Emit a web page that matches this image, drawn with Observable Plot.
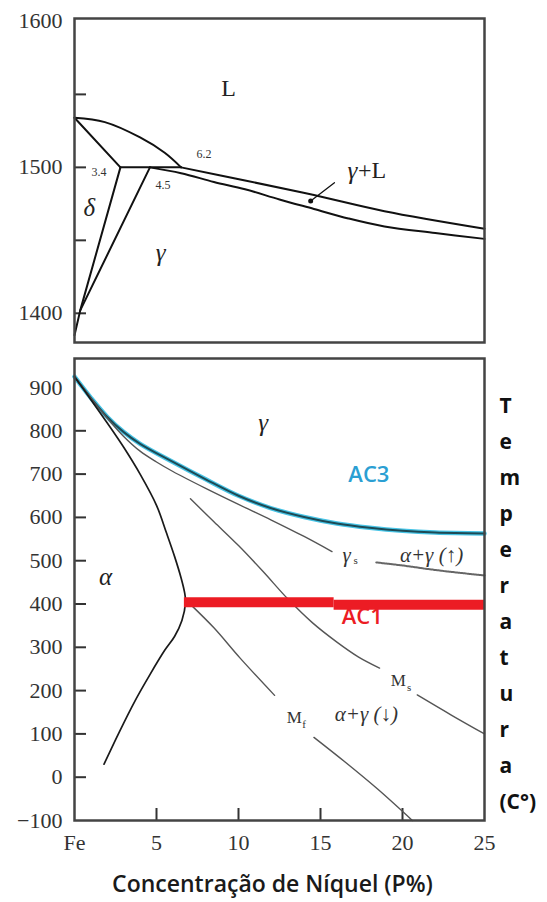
<!DOCTYPE html>
<html>
<head>
<meta charset="utf-8">
<script src="https://cdn.jsdelivr.net/npm/d3@7"></script>
<script src="https://cdn.jsdelivr.net/npm/@observablehq/plot@0.6"></script>
<style>
  html, body { margin: 0; padding: 0; background: #fff; }
  #chart { width: 547px; }
  #chart svg { display: block; }
</style>
</head>
<body>
<div id="chart"></div>
<script>
// ---------- axes ----------
const niTicks = [0, 5, 10, 15, 20, 25];
const niTickLabels = ["Fe", "5", "10", "15", "20", "25"];
const niTickMarks = [5, 10, 15, 20];
const topTempTicks = [1400, 1500, 1600];
const topTempTickMarks = [1400, 1450, 1500, 1550];
const lowTempTicks = [-100, 0, 100, 200, 300, 400, 500, 600, 700, 800, 900];
const lowTempTickMarks = [0, 100, 200, 300, 400, 500, 600, 700, 800];
const xTitle = "Concentração de Níquel (P%)";
const yTitle = "T\ne\nm\np\ne\nr\na\nt\nu\nr\na\n(C°)";

// ---------- upper panel (high temperature) : [Ni %, T °C] ----------
const liquidusDelta   = [[0,1534],[1.85,1531],[4,1520.5],[5.5,1510],[6.5,1500]];
const solidusDelta    = [[0,1534],[2.8,1500]];
const peritectic      = [[2.8,1500],[6.5,1500]];
const deltaBoundary   = [[2.8,1500],[0.35,1402],[0,1385]];
const gammaBoundary   = [[4.6,1500],[0.35,1402]];
const liquidusGamma   = [[6.5,1500],[10.4,1491],[14.6,1481],[18.9,1470],[25,1458]];
const solidusGamma    = [[4.6,1500],[6.5,1496],[8.5,1490],[10.4,1485],[12.5,1478],[14.6,1471.5],[16.7,1465],[18.9,1459.5],[22,1455],[25,1451]];
const pointer         = [[14.4,1477],[15.85,1489.5]];

const topGreek = [{ni:0.9,t:1472,s:"δ"},{ni:5.25,t:1441,s:"γ"},{ni:16.95,t:1497.7,s:"γ"}];
const topRoman = [{ni:9.4,t:1554,s:"L"},{ni:18.15,t:1497.7,s:"+L"}];
const topNums  = [{ni:7.9,t:1509,s:"6.2"},{ni:1.5,t:1496.4,s:"3.4"},{ni:5.4,t:1487.5,s:"4.5"}];

// ---------- lower panel : [Ni %, T °C] ----------
const ac3Line   = [[0,925],[1,876],[2,832],[3,797],[4,770],[6,728],[8,688],[10,650],[12,621],[14,601],[16,586],[18,576],[20,569],[22,565],[25,563]];
const gammaS    = [[0,925],[1,876],[2,829],[3,787],[4,753],[5,728],[6,706],[8,667],[10,630],[12,594],[14,556],[15.7,521]];
const gammaSext = [[18.4,496],[20,489],[21.5,481],[23,474],[25,466]];
const alphaLine = [[0,925],[1,872],[2,818],[3,762],[4,700],[5,628],[5.6,565],[6.1,510],[6.5,460],[6.72,425],[6.77,405],[6.55,362],[6.1,325],[5.5,293],[4.6,237],[3.7,177],[2.7,102],[1.8,30]];
const msA       = [[7.07,643],[8.5,590],[10,535],[11.5,475],[13,412],[14.5,357],[16,312],[17.3,278],[18.6,252]];
const msB       = [[20.9,190],[23,143],[25,100]];
const mfA       = [[7.1,398],[8.5,345],[10.1,275],[12.2,189]];
const mfB       = [[14.6,92],[16.5,35],[18.5,-28],[20.6,-100]];
const ac1A      = [[6.67,404],[15.8,404]];
const ac1B      = [[15.8,398],[25,398]];

const lowGreek  = [{ni:11.5,t:817,s:"γ"},{ni:1.9,t:463,s:"α"}];
const lowPhase  = [{ni:16.6,t:512,s:"γ"},{ni:21.77,t:512,s:"α+γ (↑)"},{ni:17.8,t:145,s:"α+γ (↓)"}];
const mLabels   = [{ni:19.75,t:223,s:"M"},{ni:13.4,t:138,s:"M"}];
const subs      = [{ni:17.15,t:500,s:"s"},{ni:20.4,t:207,s:"s"},{ni:14.0,t:122,s:"f"}];
const ac3Label  = [{ni:17.95,t:698,s:"AC3"}];
const ac1Label  = [{ni:17.55,t:369,s:"AC1"}];

// ---------- styling ----------
const serif = "Liberation Serif, Times New Roman, serif";
const sans = "Open Sans, Liberation Sans, sans-serif";
const X = d => d[0], Y = d => d[1];
const line = (data, o) => Plot.line(data, {x: X, y: Y, ...o});
const label = (data, o) => Plot.text(data, {x: "ni", y: "t", text: "s", ...o});
const fmt = d => d < 0 ? "\u2212" + (-d) : String(d);

const topPlot = Plot.plot({
  width: 547, height: 350,
  marginTop: 18, marginRight: 63, marginBottom: 8, marginLeft: 74,
  x: {domain: [0, 25], axis: null},
  y: {domain: [1380, 1602]},
  marks: [
    Plot.axisY(topTempTicks, {tickSize: 0, tickPadding: 12, tickFormat: fmt, fontSize: 22, fontFamily: serif, fill: "#333", label: null}),
    Plot.axisY(topTempTickMarks, {tickSize: -12, fill: "none", stroke: "#333", strokeWidth: 2, label: null}),
    line(liquidusDelta, {curve: "catmull-rom", stroke: "#111", strokeWidth: 2}),
    line(solidusDelta, {stroke: "#111", strokeWidth: 2}),
    line(peritectic, {stroke: "#111", strokeWidth: 2}),
    line(deltaBoundary, {stroke: "#111", strokeWidth: 2}),
    line(gammaBoundary, {stroke: "#111", strokeWidth: 2}),
    line(liquidusGamma, {curve: "catmull-rom", stroke: "#111", strokeWidth: 2}),
    line(solidusGamma, {curve: "catmull-rom", stroke: "#111", strokeWidth: 2}),
    line(pointer, {stroke: "#111", strokeWidth: 1.3}),
    Plot.dot(pointer.slice(0, 1), {x: X, y: Y, r: 2.5, fill: "#111"}),
    Plot.frame({stroke: "#444", strokeWidth: 2.5}),
    label(topGreek, {fontFamily: serif, fontStyle: "italic", fontSize: 25, fill: "#222"}),
    label(topRoman, {fontFamily: serif, fontSize: 24, fill: "#222"}),
    label(topNums, {fontFamily: serif, fontSize: 12, fill: "#333"})
  ]
});

const lowPlot = Plot.plot({
  width: 547, height: 552,
  marginTop: 8, marginRight: 63, marginBottom: 82, marginLeft: 74,
  x: {domain: [0, 25]},
  y: {domain: [-100, 967]},
  marks: [
    Plot.axisY(lowTempTicks, {tickSize: 0, tickPadding: 12, tickFormat: fmt, fontSize: 22, fontFamily: serif, fill: "#333", label: null}),
    Plot.axisY(lowTempTickMarks, {tickSize: -12, fill: "none", stroke: "#333", strokeWidth: 2, label: null}),
    Plot.axisX(niTicks, {tickSize: 0, tickPadding: 14, fontSize: 22, fontFamily: serif, fill: "#333", label: null,
      tickFormat: d => niTickLabels[niTicks.indexOf(d)]}),
    Plot.axisX(niTickMarks, {tickSize: -12, fill: "none", stroke: "#333", strokeWidth: 2, label: null}),
    line(ac3Line, {curve: "catmull-rom", stroke: "#47c4e6", strokeWidth: 4.5}),
    line(ac3Line, {curve: "catmull-rom", stroke: "#1d4a55", strokeWidth: 2}),
    line(gammaS, {curve: "catmull-rom", stroke: "#555", strokeWidth: 1.4}),
    line(gammaSext, {curve: "catmull-rom", stroke: "#666", strokeWidth: 2, strokeDasharray: "1.5,1"}),
    line(alphaLine, {curve: "catmull-rom", stroke: "#1a1a1a", strokeWidth: 1.7}),
    line(msA, {curve: "catmull-rom", stroke: "#555", strokeWidth: 1.4}),
    line(msB, {curve: "catmull-rom", stroke: "#555", strokeWidth: 1.4}),
    line(mfA, {curve: "catmull-rom", stroke: "#555", strokeWidth: 1.4}),
    line(mfB, {curve: "catmull-rom", stroke: "#555", strokeWidth: 1.4}),
    line(ac1A, {stroke: "#ec1c24", strokeWidth: 10, strokeLinecap: "butt"}),
    line(ac1B, {stroke: "#ec1c24", strokeWidth: 10, strokeLinecap: "butt"}),
    Plot.frame({stroke: "#444", strokeWidth: 2.5}),
    label(lowGreek, {fontFamily: serif, fontStyle: "italic", fontSize: 25, fill: "#222"}),
    label(lowPhase, {fontFamily: serif, fontStyle: "italic", fontSize: 21, fill: "#333"}),
    label(mLabels, {fontFamily: serif, fontSize: 17, fill: "#333"}),
    label(subs, {fontFamily: serif, fontSize: 11, fill: "#333"}),
    label(ac3Label, {fontFamily: sans, fontWeight: 600, fontSize: 22, fill: "#2b9fd3"}),
    label(ac1Label, {fontFamily: sans, fontWeight: 600, fontSize: 22, fill: "#ec1c24"}),
    Plot.text([yTitle], {text: d => d, frameAnchor: "top-right", dx: 15, dy: 29, textAnchor: "start", lineAnchor: "top",
      lineHeight: 1.714, fontFamily: sans, fontWeight: 700, fontSize: 21, fill: "#111"}),
    Plot.text([xTitle], {text: d => d, frameAnchor: "bottom", dx: -7, dy: 64, lineAnchor: "middle",
      fontFamily: sans, fontWeight: 600, fontSize: 23, fill: "#1a1a1a"})
  ]
});

const chart = document.getElementById("chart");
chart.appendChild(topPlot);
chart.appendChild(lowPlot);
</script>
</body>
</html>
